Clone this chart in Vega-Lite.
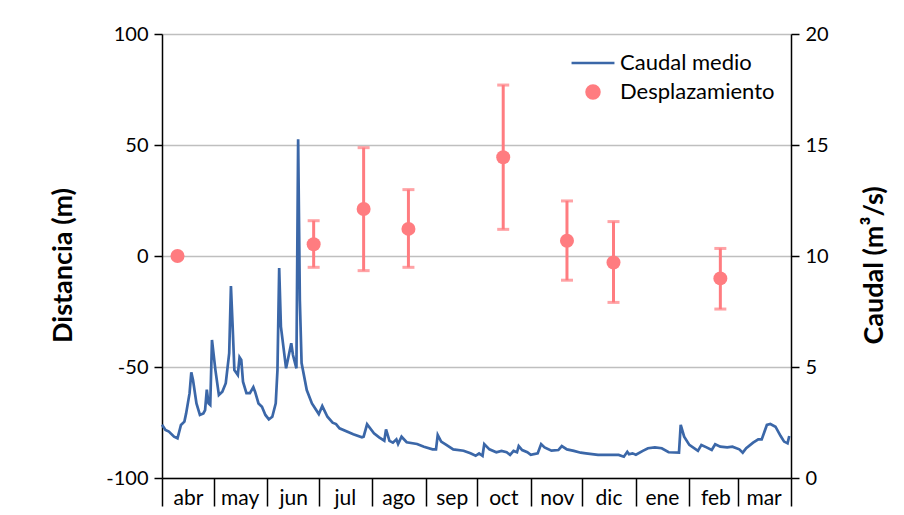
{
  "$schema": "https://vega.github.io/schema/vega-lite/v6.json",
  "width": 629,
  "height": 444,
  "autosize": {"type": "none"},
  "padding": {"left": 162, "top": 34, "right": 113, "bottom": 37},
  "background": "white",
  "config": {
    "font": "Lato",
    "view": {"stroke": null},
    "axis": {
      "domainColor": "black", "domainWidth": 1.5,
      "tickColor": "black", "tickWidth": 1.5,
      "labelColor": "black", "titleColor": "black",
      "gridColor": "#BFBFBF", "gridWidth": 1.5
    }
  },
  "datasets": {
    "caudal": [
      {"fecha": "2014-04-01", "caudal": 2.40},
      {"fecha": "2014-04-03", "caudal": 2.16},
      {"fecha": "2014-04-05", "caudal": 2.09},
      {"fecha": "2014-04-08", "caudal": 1.86},
      {"fecha": "2014-04-10", "caudal": 1.79},
      {"fecha": "2014-04-12", "caudal": 2.39},
      {"fecha": "2014-04-14", "caudal": 2.54},
      {"fecha": "2014-04-15", "caudal": 2.91},
      {"fecha": "2014-04-17", "caudal": 3.82},
      {"fecha": "2014-04-18", "caudal": 4.76},
      {"fecha": "2014-04-19", "caudal": 4.41},
      {"fecha": "2014-04-21", "caudal": 3.36},
      {"fecha": "2014-04-23", "caudal": 2.84},
      {"fecha": "2014-04-25", "caudal": 2.91},
      {"fecha": "2014-04-26", "caudal": 3.06},
      {"fecha": "2014-04-27", "caudal": 3.98},
      {"fecha": "2014-04-28", "caudal": 3.36},
      {"fecha": "2014-04-29", "caudal": 3.29},
      {"fecha": "2014-04-30", "caudal": 6.22},
      {"fecha": "2014-05-02", "caudal": 4.86},
      {"fecha": "2014-05-04", "caudal": 3.74},
      {"fecha": "2014-05-06", "caudal": 3.89},
      {"fecha": "2014-05-08", "caudal": 4.27},
      {"fecha": "2014-05-10", "caudal": 5.62},
      {"fecha": "2014-05-11", "caudal": 8.65},
      {"fecha": "2014-05-12", "caudal": 6.82},
      {"fecha": "2014-05-13", "caudal": 4.86},
      {"fecha": "2014-05-15", "caudal": 4.64},
      {"fecha": "2014-05-16", "caudal": 5.44},
      {"fecha": "2014-05-17", "caudal": 5.32},
      {"fecha": "2014-05-18", "caudal": 4.34},
      {"fecha": "2014-05-20", "caudal": 3.82},
      {"fecha": "2014-05-22", "caudal": 3.82},
      {"fecha": "2014-05-24", "caudal": 4.09},
      {"fecha": "2014-05-25", "caudal": 3.89},
      {"fecha": "2014-05-27", "caudal": 3.36},
      {"fecha": "2014-05-29", "caudal": 3.21},
      {"fecha": "2014-05-31", "caudal": 2.84},
      {"fecha": "2014-06-02", "caudal": 2.64},
      {"fecha": "2014-06-04", "caudal": 2.76},
      {"fecha": "2014-06-06", "caudal": 3.36},
      {"fecha": "2014-06-07", "caudal": 4.86},
      {"fecha": "2014-06-08", "caudal": 9.46},
      {"fecha": "2014-06-09", "caudal": 6.82},
      {"fecha": "2014-06-12", "caudal": 4.94},
      {"fecha": "2014-06-13", "caudal": 5.32},
      {"fecha": "2014-06-15", "caudal": 6.07},
      {"fecha": "2014-06-16", "caudal": 5.54},
      {"fecha": "2014-06-18", "caudal": 4.94},
      {"fecha": "2014-06-19", "caudal": 15.26},
      {"fecha": "2014-06-20", "caudal": 8.0},
      {"fecha": "2014-06-21", "caudal": 5.18},
      {"fecha": "2014-06-24", "caudal": 3.96},
      {"fecha": "2014-06-27", "caudal": 3.36},
      {"fecha": "2014-07-01", "caudal": 2.88},
      {"fecha": "2014-07-03", "caudal": 3.24},
      {"fecha": "2014-07-06", "caudal": 2.76},
      {"fecha": "2014-07-09", "caudal": 2.49},
      {"fecha": "2014-07-11", "caudal": 2.43},
      {"fecha": "2014-07-13", "caudal": 2.24},
      {"fecha": "2014-07-21", "caudal": 1.97},
      {"fecha": "2014-07-26", "caudal": 1.83},
      {"fecha": "2014-07-27", "caudal": 1.86},
      {"fecha": "2014-07-29", "caudal": 2.42},
      {"fecha": "2014-08-02", "caudal": 2.01},
      {"fecha": "2014-08-05", "caudal": 1.83},
      {"fecha": "2014-08-08", "caudal": 1.68},
      {"fecha": "2014-08-09", "caudal": 2.19},
      {"fecha": "2014-08-11", "caudal": 1.67},
      {"fecha": "2014-08-13", "caudal": 1.59},
      {"fecha": "2014-08-15", "caudal": 1.74},
      {"fecha": "2014-08-16", "caudal": 1.53},
      {"fecha": "2014-08-18", "caudal": 1.86},
      {"fecha": "2014-08-21", "caudal": 1.61},
      {"fecha": "2014-08-27", "caudal": 1.53},
      {"fecha": "2014-08-31", "caudal": 1.41},
      {"fecha": "2014-09-05", "caudal": 1.29},
      {"fecha": "2014-09-07", "caudal": 1.29},
      {"fecha": "2014-09-08", "caudal": 1.94},
      {"fecha": "2014-09-10", "caudal": 1.64},
      {"fecha": "2014-09-13", "caudal": 1.49},
      {"fecha": "2014-09-17", "caudal": 1.29},
      {"fecha": "2014-09-23", "caudal": 1.23},
      {"fecha": "2014-09-27", "caudal": 1.11},
      {"fecha": "2014-09-30", "caudal": 1.00},
      {"fecha": "2014-10-02", "caudal": 1.11},
      {"fecha": "2014-10-04", "caudal": 1.00},
      {"fecha": "2014-10-05", "caudal": 1.53},
      {"fecha": "2014-10-08", "caudal": 1.29},
      {"fecha": "2014-10-12", "caudal": 1.16},
      {"fecha": "2014-10-15", "caudal": 1.22},
      {"fecha": "2014-10-18", "caudal": 1.16},
      {"fecha": "2014-10-20", "caudal": 1.04},
      {"fecha": "2014-10-22", "caudal": 1.22},
      {"fecha": "2014-10-24", "caudal": 1.16},
      {"fecha": "2014-10-25", "caudal": 1.44},
      {"fecha": "2014-10-27", "caudal": 1.26},
      {"fecha": "2014-10-30", "caudal": 1.16},
      {"fecha": "2014-11-01", "caudal": 1.04},
      {"fecha": "2014-11-05", "caudal": 1.11},
      {"fecha": "2014-11-07", "caudal": 1.53},
      {"fecha": "2014-11-09", "caudal": 1.38},
      {"fecha": "2014-11-13", "caudal": 1.23},
      {"fecha": "2014-11-17", "caudal": 1.26},
      {"fecha": "2014-11-19", "caudal": 1.44},
      {"fecha": "2014-11-22", "caudal": 1.29},
      {"fecha": "2014-11-26", "caudal": 1.22},
      {"fecha": "2014-11-30", "caudal": 1.14},
      {"fecha": "2014-12-03", "caudal": 1.11},
      {"fecha": "2014-12-10", "caudal": 1.04},
      {"fecha": "2014-12-22", "caudal": 1.04},
      {"fecha": "2014-12-25", "caudal": 0.96},
      {"fecha": "2014-12-27", "caudal": 1.18},
      {"fecha": "2014-12-28", "caudal": 1.07},
      {"fecha": "2014-12-30", "caudal": 1.11},
      {"fecha": "2015-01-01", "caudal": 1.05},
      {"fecha": "2015-01-05", "caudal": 1.22},
      {"fecha": "2015-01-08", "caudal": 1.34},
      {"fecha": "2015-01-12", "caudal": 1.38},
      {"fecha": "2015-01-16", "caudal": 1.34},
      {"fecha": "2015-01-20", "caudal": 1.16},
      {"fecha": "2015-01-26", "caudal": 1.14},
      {"fecha": "2015-01-27", "caudal": 2.39},
      {"fecha": "2015-01-29", "caudal": 1.86},
      {"fecha": "2015-02-01", "caudal": 1.49},
      {"fecha": "2015-02-06", "caudal": 1.22},
      {"fecha": "2015-02-08", "caudal": 1.49},
      {"fecha": "2015-02-11", "caudal": 1.38},
      {"fecha": "2015-02-14", "caudal": 1.26},
      {"fecha": "2015-02-16", "caudal": 1.52},
      {"fecha": "2015-02-19", "caudal": 1.41},
      {"fecha": "2015-02-23", "caudal": 1.38},
      {"fecha": "2015-02-26", "caudal": 1.41},
      {"fecha": "2015-03-02", "caudal": 1.29},
      {"fecha": "2015-03-04", "caudal": 1.14},
      {"fecha": "2015-03-06", "caudal": 1.34},
      {"fecha": "2015-03-10", "caudal": 1.59},
      {"fecha": "2015-03-13", "caudal": 1.74},
      {"fecha": "2015-03-15", "caudal": 1.74},
      {"fecha": "2015-03-18", "caudal": 2.39},
      {"fecha": "2015-03-20", "caudal": 2.43},
      {"fecha": "2015-03-23", "caudal": 2.31},
      {"fecha": "2015-03-26", "caudal": 1.89},
      {"fecha": "2015-03-28", "caudal": 1.64},
      {"fecha": "2015-03-30", "caudal": 1.56},
      {"fecha": "2015-03-31", "caudal": 1.89}
    ],
    "desp": [
      {"fecha": "2014-04-10", "dist": 0, "lo": null, "hi": null},
      {"fecha": "2014-06-28", "dist": 5.3, "lo": -5.1, "hi": 15.9},
      {"fecha": "2014-07-27", "dist": 21.2, "lo": -6.6, "hi": 48.8},
      {"fecha": "2014-08-22", "dist": 12.2, "lo": -5.1, "hi": 29.9},
      {"fecha": "2014-10-16", "dist": 44.5, "lo": 12.0, "hi": 77.0},
      {"fecha": "2014-11-22", "dist": 6.9, "lo": -10.9, "hi": 24.8},
      {"fecha": "2014-12-19", "dist": -2.9, "lo": -20.9, "hi": 15.5},
      {"fecha": "2015-02-19", "dist": -10.1, "lo": -23.9, "hi": 3.4}
    ]
  },
  "encoding": {
    "x": {
      "field": "fecha",
      "type": "temporal",
      "scale": {
        "type": "utc",
        "nice": false,
        "domain": [
          {"year": 2014, "month": 4, "date": 1, "utc": true},
          {"year": 2015, "month": 4, "date": 1, "utc": true}
        ]
      },
      "axis": {
        "title": null,
        "grid": false,
        "values": [
          {"year": 2014, "month": 4, "date": 1, "utc": true},
          {"year": 2014, "month": 5, "date": 1, "utc": true},
          {"year": 2014, "month": 6, "date": 1, "utc": true},
          {"year": 2014, "month": 7, "date": 1, "utc": true},
          {"year": 2014, "month": 8, "date": 1, "utc": true},
          {"year": 2014, "month": 9, "date": 1, "utc": true},
          {"year": 2014, "month": 10, "date": 1, "utc": true},
          {"year": 2014, "month": 11, "date": 1, "utc": true},
          {"year": 2014, "month": 12, "date": 1, "utc": true},
          {"year": 2015, "month": 1, "date": 1, "utc": true},
          {"year": 2015, "month": 2, "date": 1, "utc": true},
          {"year": 2015, "month": 3, "date": 1, "utc": true},
          {"year": 2015, "month": 4, "date": 1, "utc": true}
        ],
        "tickSize": 28,
        "labelPadding": -19,
        "labelOffset": 26,
        "labelFlush": false,
        "labelOverlap": false,
        "labelBound": false,
        "labelAlign": "center",
        "labelBaseline": "top",
        "labelFontSize": 21,
        "labelExpr": "(utcyear(datum.value) == 2015 && utcmonth(datum.value) == 3) ? '' : ['ene','feb','mar','abr','may','jun','jul','ago','sep','oct','nov','dic'][utcmonth(datum.value)]"
      }
    }
  },
  "layer": [
    {
      "data": {"name": "caudal"},
      "mark": {"type": "line", "strokeWidth": 2.7},
      "encoding": {
        "y": {
          "field": "caudal",
          "type": "quantitative",
          "scale": {"domain": [0, 20], "nice": false, "zero": false},
          "axis": {
            "orient": "right",
            "values": [0, 5, 10, 15, 20],
            "grid": false,
            "title": "Caudal (m³/s)",
            "titleAngle": 270,
            "titleX": 97,
            "titleY": 231,
            "titleBaseline": "bottom",
            "titleFontSize": 27,
            "titleFontWeight": "bold",
            "labelFontSize": 20,
            "tickSize": 8,
            "labelPadding": 6
          }
        },
        "color": {
          "datum": "Caudal medio",
          "type": "nominal",
          "scale": {"domain": ["Caudal medio", "Desplazamiento"], "range": ["#3B67A8", "#FF7C80"]},
          "legend": {
            "title": null,
            "orient": "none",
            "legendX": 420,
            "legendY": 18,
            "padding": 0,
            "labelFontSize": 22,
            "labelColor": "black",
            "labelOffset": 16,
            "rowPadding": 6,
            "symbolSize": 169,
            "encode": {
              "symbols": {
                "update": {
                  "shape": {"signal": "datum.value === 'Caudal medio' ? 'M-3.3,0H3.3' : 'circle'"},
                  "fill": {"signal": "datum.value === 'Caudal medio' ? 'transparent' : '#FF7C80'"},
                  "stroke": {"signal": "datum.value === 'Caudal medio' ? '#3B67A8' : 'transparent'"},
                  "strokeWidth": {"value": 2.5},
                  "size": {"value": 169},
                  "opacity": {"value": 1}
                }
              }
            }
          }
        }
      }
    },
    {
      "data": {"name": "desp"},
      "layer": [
        {
          "transform": [{"filter": "datum.lo != null"}],
          "mark": {"type": "errorbar", "ticks": true, "size": 12, "thickness": 3, "color": "#FF7C80"},
          "encoding": {
            "y": {
              "field": "hi",
              "type": "quantitative",
              "scale": {"domain": [-100, 100], "nice": false, "zero": false},
              "axis": {
                "orient": "left",
                "values": [-100, -50, 0, 50, 100],
                "grid": true,
                "title": "Distancia (m)",
                "titleAngle": 270,
                "titleX": -85,
                "titleY": 231,
                "titleBaseline": "bottom",
                "titleFontSize": 27,
                "titleFontWeight": "bold",
                "labelFontSize": 20,
                "labelExpr": "'' + datum.value",
                "tickSize": 8,
                "labelPadding": 6
              }
            },
            "y2": {"field": "lo"}
          }
        },
        {
          "mark": {"type": "point", "filled": true, "size": 196, "opacity": 1},
          "encoding": {
            "y": {
              "field": "dist",
              "type": "quantitative",
              "scale": {"domain": [-100, 100], "nice": false, "zero": false},
              "axis": {
                "orient": "left",
                "values": [-100, -50, 0, 50, 100],
                "grid": true,
                "title": "Distancia (m)",
                "titleAngle": 270,
                "titleX": -85,
                "titleY": 231,
                "titleBaseline": "bottom",
                "titleFontSize": 27,
                "titleFontWeight": "bold",
                "labelFontSize": 20,
                "labelExpr": "'' + datum.value",
                "tickSize": 8,
                "labelPadding": 6
              }
            },
            "color": {"datum": "Desplazamiento", "type": "nominal"}
          }
        }
      ]
    }
  ],
  "resolve": {"scale": {"y": "independent"}}
}
